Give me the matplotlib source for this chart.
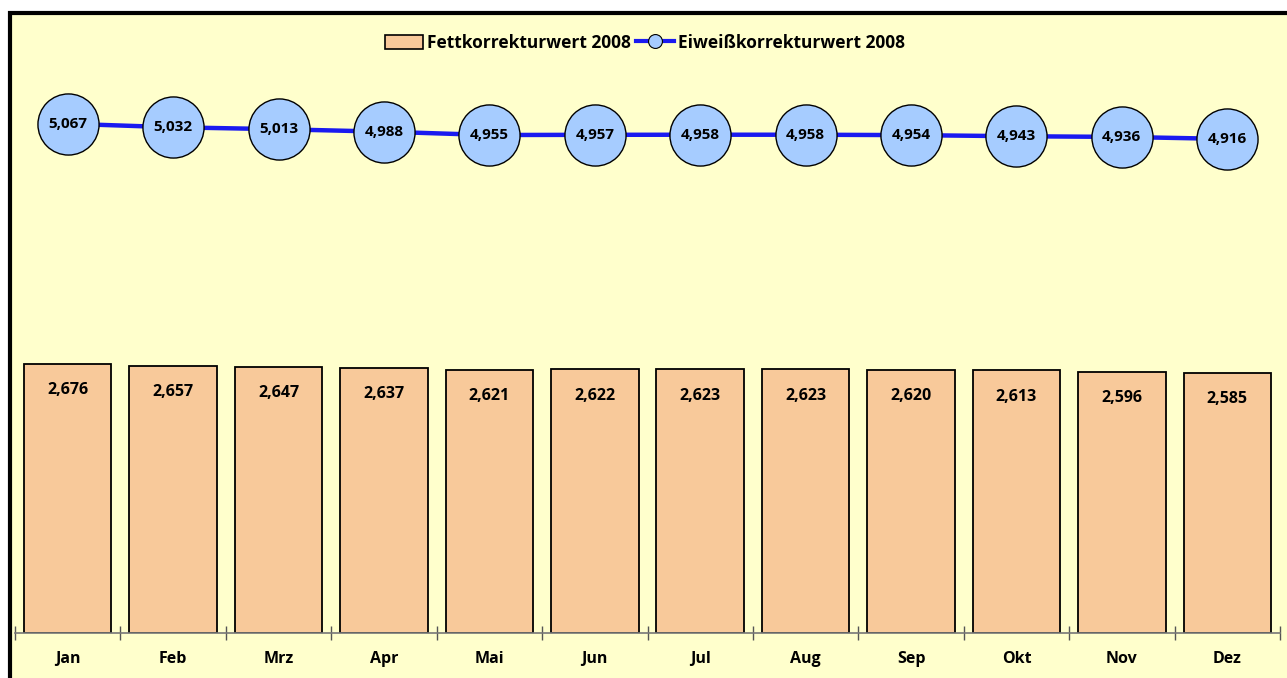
import matplotlib
matplotlib.use("Agg")
import matplotlib.pyplot as plt
from matplotlib.patches import Rectangle
from matplotlib.lines import Line2D

monate = ["Jan", "Feb", "Mrz", "Apr", "Mai", "Jun", "Jul", "Aug", "Sep", "Okt", "Nov", "Dez"]
fett = [2.676, 2.657, 2.647, 2.637, 2.621, 2.622, 2.623, 2.623, 2.620, 2.613, 2.596, 2.585]
eiweiss = [5.067, 5.032, 5.013, 4.988, 4.955, 4.957, 4.958, 4.958, 4.954, 4.943, 4.936, 4.916]

gelb = "#FFFFCC"
orange = "#F8C99A"
hellblau = "#A6CCFF"
blau = "#1A1AF0"

plt.rcParams["font.family"] = ["Open Sans", "DejaVu Sans"]
plt.rcParams["font.weight"] = "bold"

W, H = 1287, 678
fig = plt.figure(figsize=(W / 100, H / 100), dpi=100, facecolor="white")

# gelber Hintergrund mit schwarzem Rand oben und links
fig.patches.append(Rectangle((10 / W, -0.05), 1.1, (H - 12.5) / H + 0.05,
                             transform=fig.transFigure, facecolor=gelb,
                             edgecolor="black", linewidth=3, zorder=-5))

ax = fig.add_axes([15 / W, 45 / H, (1280 - 15) / W, (633 - 13) / H])
ax.set_facecolor("none")
ax.set_zorder(2)

x = list(range(len(monate)))
ax.bar(x, fett, width=0.83, color=orange, edgecolor="black", linewidth=1.3, zorder=2)
ax.plot(x, eiweiss, color=blau, linewidth=3.2, marker="o", markersize=44,
        markerfacecolor=hellblau, markeredgecolor="black", markeredgewidth=1.0, zorder=3)

for i in x:
    ax.text(i, fett[i] - 0.26, f"{fett[i]:.3f}".replace(".", ","), ha="center", va="center",
            fontsize=11.5, fontweight="bold", zorder=4)
    ax.text(i, eiweiss[i], f"{eiweiss[i]:.3f}".replace(".", ","), ha="center", va="center",
            fontsize=11, fontweight="bold", zorder=4)

ax.set_xlim(-0.5, len(monate) - 0.5)
ax.set_ylim(0, 620 / 100.5)
ax.set_yticks([])
ax.set_xticks([i - 0.5 for i in range(len(monate) + 1)], minor=False)
ax.set_xticklabels([])
ax.set_xticks(x, minor=True)
ax.set_xticklabels(monate, minor=True, fontsize=11.5, fontweight="bold")
ax.tick_params(axis="x", which="major", direction="inout", length=10, width=1, color="#555555")
ax.tick_params(axis="x", which="minor", length=0, pad=13)
for s in ["top", "right", "left"]:
    ax.spines[s].set_visible(False)
ax.spines["bottom"].set_color("#777777")
ax.spines["bottom"].set_linewidth(1.2)

handles = [
    Rectangle((0, 0), 1, 1, facecolor=orange, edgecolor="black", linewidth=1.2),
    Line2D([0], [0], color=blau, linewidth=3, marker="o", markersize=10,
           markerfacecolor=hellblau, markeredgecolor="black", markeredgewidth=0.8),
]
fig.legend(handles, ["Fettkorrekturwert 2008", "Eiweißkorrekturwert 2008"],
           loc="center", bbox_to_anchor=(645 / W, 1 - 43 / H), ncol=2, frameon=False,
           prop={"size": 12.5, "weight": "bold"}, handlelength=2.2, handleheight=0.9,
           handletextpad=0.2, columnspacing=0.3)

fig.savefig("out.png", dpi=100, facecolor="white")
